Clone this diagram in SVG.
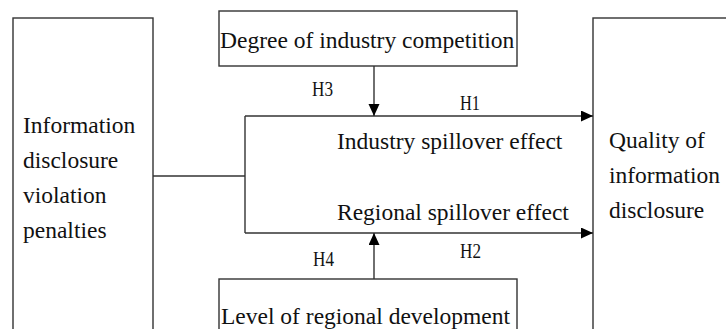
<svg xmlns="http://www.w3.org/2000/svg" width="726" height="329" viewBox="0 0 726 329">
  <style>
    .box { fill: #fff; stroke: #333; stroke-width: 1.4; }
    .t { font-family: "Liberation Serif", "Times New Roman", serif; font-size: 23.5px; fill: #111; }
    .h { font-family: "Liberation Serif", "Times New Roman", serif; font-size: 20px; fill: #111; }
    .ln { fill: none; stroke: #333; stroke-width: 1.4; }
  </style>
  <defs>
    <marker id="arr" markerUnits="userSpaceOnUse" markerWidth="13" markerHeight="12" refX="12" refY="5.5" orient="auto">
      <path d="M0,0 L12,5.5 L0,11 z" fill="#000"/>
    </marker>
  </defs>
  <rect width="726" height="329" fill="#fff"/>

  <g id="node-penalties">
    <rect class="box" x="13" y="18" width="140" height="330"/>
    <text class="t" x="23" y="133">Information</text>
    <text class="t" x="23" y="168">disclosure</text>
    <text class="t" x="23" y="203">violation</text>
    <text class="t" x="23" y="238">penalties</text>
  </g>

  <g id="node-quality">
    <rect class="box" x="593" y="18" width="150" height="330"/>
    <text class="t" x="609" y="148">Quality of</text>
    <text class="t" x="609" y="183">information</text>
    <text class="t" x="609" y="218">disclosure</text>
  </g>

  <g id="node-competition">
    <rect class="box" x="219" y="11" width="298" height="55"/>
    <text class="t" x="220" y="48">Degree of industry competition</text>
  </g>

  <g id="node-regional-dev">
    <rect class="box" x="219" y="279" width="298" height="70"/>
    <text class="t" x="221" y="324">Level of regional development</text>
  </g>

  <g id="connectors">
    <path class="ln" d="M153,176 H245"/>
    <path class="ln" d="M245,116 V233"/>
    <path class="ln" d="M245,116 H593" marker-end="url(#arr)"/>
    <path class="ln" d="M245,233 H593" marker-end="url(#arr)"/>
    <path class="ln" d="M374,66 V116" marker-end="url(#arr)"/>
    <path class="ln" d="M374,279 V233" marker-end="url(#arr)"/>
    <text class="t" x="337" y="149">Industry spillover effect</text>
    <text class="t" x="337" y="220">Regional spillover effect</text>
    <text class="h" x="312" y="96" textLength="21" lengthAdjust="spacingAndGlyphs">H3</text>
    <text class="h" x="460" y="110" textLength="20" lengthAdjust="spacingAndGlyphs">H1</text>
    <text class="h" x="313" y="266" textLength="21" lengthAdjust="spacingAndGlyphs">H4</text>
    <text class="h" x="460" y="258" textLength="21" lengthAdjust="spacingAndGlyphs">H2</text>
  </g>
</svg>
